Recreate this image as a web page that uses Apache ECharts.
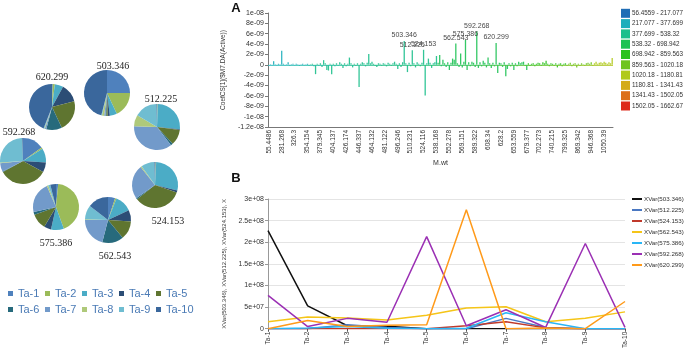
<!DOCTYPE html>
<html>
<head>
<meta charset="utf-8">
<script src="https://cdn.jsdelivr.net/npm/echarts@6/dist/echarts.min.js"></script>
<style>
html,body{margin:0;padding:0;background:#fff}
#main{width:685px;height:351px}
</style>
</head>
<body>
<div id="main"></div>
<script>
// ---- panel A : coefficient bars ----
var mwTicks = ['55.4486','281.268','326.3','354.154','379.345','404.137','426.174','446.337','464.132',
  '481.122','496.246','510.231','524.116','538.168','552.278','569.151','589.322','608.34','628.2',
  '653.559','679.377','702.273','740.215','799.325','869.342','946.368','1050.39'];
// coefficients in units of 1e-9, 8 bars per tick step
var coefNano = [
  0.2, 0.1,-0.1, 0.7, 0.1,-0.1, 0.2, 0.1,
  2.7, 0.2,-0.1, 0.1, 0.5,-0.2, 0.1, 0.2,
 -0.1, 0.2, 0.1,-0.2, 0.1, 0.2,-0.1, 0.1,
  0.2,-0.2, 0.1, 0.2,-0.3,-1.8, 0.2,-0.2,
  0.3,-0.4, 0.9, 0.3,-1.0,-1.1, 0.2,-1.8,
  0.2,-0.3, 0.3,-0.2, 0.5, 0.2,-0.6, 0.3,
 -0.3, 0.2, 1.4, 0.3,-0.5, 0.2,-0.2, 0.3,
 -4.3, 0.2, 0.5, 0.3,-0.3, 0.4, 2.1, 0.3,
  0.6, 0.2,-0.2,-0.4, 0.3, 0.2,-0.2, 0.3,
  0.2,-0.3, 0.4, 0.2,-0.2, 0.3, 0.6, 0.2,
 -0.8, 0.3,-0.4, 0.5, 4.6, 0.3,-1.4, 0.4,
 -0.3, 2.8, 0.3,-0.5, 0.5, 0.2,-0.3, 0.4,
  2.9,-5.9, 0.3, 1.2, 0.4,-0.6, 0.3, 0.5,
  1.7, 0.4, 1.9,-0.3, 1.0, 0.3,-0.4, 0.5,
 -1.0, 0.4, 1.2, 1.0, 4.1, 0.3,-0.4, 2.2,
 -0.5, 0.6, 4.8,-1.0, 0.5,-0.3, 0.6, 0.4,
 -0.4, 6.5,-0.6, 0.5,-0.3, 0.8, 0.4,-0.5,
  1.4, 0.3,-0.6, 0.4,-0.3, 4.2,-1.6, 0.4,
  0.3,-0.4, 0.5,-2.2,-0.8, 0.3,-0.3, 0.4,
 -1.0, 0.3,-0.3, 0.6, 0.3, 0.5, 0.6,-0.2,
 -1.0, 0.3,-0.2, 0.2, 0.3,-0.3, 0.2, 0.4,
  0.3,-0.2, 0.5, 0.3, 0.8, 0.2,-0.3, 0.3,
  0.2,-0.2, 0.3,-0.5, 0.2, 0.3,-0.3, 0.2,
  0.3,-0.2, 0.2, 0.4,-0.3, 0.2, 0.3,-0.5,
  0.2,-0.2, 0.3, 0.1,-0.2, 0.3, 0.4, 0.2,
  0.5,-0.2, 0.3, 0.6, 0.2, 0.4, 0.5, 0.3,
  0.6, 0.4, 0.2, 0.5, 0.3, 1.3
];
var peakIndex = [84, 89, 96, 116, 122, 129, 141];
var peakNames = ['503.346','512.225','524.153','562.543','575.386','592.268','620.299'];
var massBreaks = [56.4559, 217.077, 377.699, 538.32, 698.942, 859.563, 1020.18, 1180.81, 1341.43, 1502.05, 1662.67];
var rangeColors = ['#1f6db5','#1eaebb','#1cbf8c','#1ec254','#2ac21e','#6ec41e','#b0c91a','#d4ab18','#dc6f1a','#dd2a1b'];

// ---- panel B : XVar per sample ----
var sampleNames = ['Ta-1','Ta-2','Ta-3','Ta-4','Ta-5','Ta-6','Ta-7','Ta-8','Ta-9','Ta-10'];
var xvar503 = [227e6, 53e6, 7e6, 6e6, 0, 0, 0, 0, 0, 0];
var xvar512 = [0, 0, 9e6, 3e6, 0, 0, 24e6, 3e6, 0, 0];
var xvar524 = [0, 0, 0, 0, 0, 7e6, 16e6, 2e6, 0, 0];
var xvar562 = [16e6, 27e6, 25e6, 20e6, 31e6, 48e6, 51e6, 16e6, 24e6, 39e6];
var xvar575 = [0, 2e6, 5e6, 1e6, 0, 1e6, 37e6, 16e6, 0, 0];
var xvar592 = [77e6, 5e6, 24e6, 15e6, 213e6, 7e6, 44e6, 3e6, 197e6, 3e6];
var xvar620 = [0, 19e6, 5e6, 8e6, 9e6, 275e6, 0, 2e6, 0, 63e6];
var lineColors = ['#111111','#4a78c2','#c0392b','#f5c518','#29b6f6','#9b30b4','#ff9a1a'];

// ---- left : pies (share of each sample, %) ----
var taNames = ['Ta-1','Ta-2','Ta-3','Ta-4','Ta-5','Ta-6','Ta-7','Ta-8','Ta-9','Ta-10'];
var share503 = [25, 18, 5, 1.5, 1, 0.5, 1, 1.5, 0.5, 46];
var share512 = [0.3, 0.3, 26, 0.5, 11, 1.5, 36, 8, 16, 0.4];
var share524 = [0.5, 0.3, 28, 1.5, 34, 1, 24, 0.8, 9.5, 0.4];
var share562 = [5, 1, 12, 8, 13, 15, 21, 0.5, 10, 14.5];
var share575 = [1.5, 43, 9, 5, 11, 2, 22, 1, 1.5, 4];
var share592 = [15, 1, 10, 7, 34, 0.5, 6, 0.5, 25.5, 0.5];
var share620 = [0.5, 1.5, 6, 13, 22, 11, 1, 0.5, 0.5, 44];
var taColors = ['#4f81bd','#9bbb59','#4bacc6','#2c4d75','#5f7530','#276a7c','#729aca','#afc97a','#6fbdd1','#3a679c'];

var myChart = echarts.init(document.getElementById('main'));

function pad2(n){ return n < 10 ? '0' + n : '' + n; }
function sciLabel(v, scale){
    if (v === 0) return '0';
    var a = Math.abs(v) * scale;
    var e = Math.floor(Math.log10(a) + 1e-9);
    var m = +(a / Math.pow(10, e)).toFixed(2);
    return (v < 0 ? '-' : '') + m + 'e' + (e < 0 ? '-' : '+') + pad2(Math.abs(e));
}

var barData = coefNano.map(function (v, i) {
    var mass = parseFloat(mwTicks[Math.min(Math.ceil(i / 8), mwTicks.length - 1)]);
    var item = { value: [i, v, mass] };
    var p = peakIndex.indexOf(i);
    if (p >= 0) {
        item.label = { show: true, formatter: peakNames[p] };
    }
    return item;
});

var pieSets = [
    { name: '503.346', data: share503, c: [107, 93], t: [113, 66] },
    { name: '512.225', data: share512, c: [157, 127], t: [161, 99] },
    { name: '524.153', data: share524, c: [155, 185], t: [168, 221] },
    { name: '562.543', data: share562, c: [108, 220], t: [115, 256] },
    { name: '575.386', data: share575, c: [56, 207], t: [56, 243] },
    { name: '592.268', data: share592, c: [23, 161], t: [19, 132] },
    { name: '620.299', data: share620, c: [52, 107], t: [52, 77] }
];
var lineSets = [
    ['XVar(503.346)', xvar503], ['XVar(512.225)', xvar512], ['XVar(524.153)', xvar524],
    ['XVar(562.543)', xvar562], ['XVar(575.386)', xvar575], ['XVar(592.268)', xvar592],
    ['XVar(620.299)', xvar620]
];

var series = [{
    type: 'bar',
    xAxisIndex: 0, yAxisIndex: 0,
    dimensions: ['idx', 'coef', 'mass'],
    encode: { x: 0, y: 1 },
    barWidth: 1.3,
    data: barData,
    itemStyle: { opacity: 0.9 },
    label: { position: 'top', distance: 2, fontSize: 7, color: '#333' },
    markLine: {
        silent: true, symbol: 'none', label: { show: false },
        lineStyle: {
            width: 1, type: 'solid', opacity: 0.8,
            color: new echarts.graphic.LinearGradient(0, 0, 1, 0, [
                { offset: 0, color: '#2fbcc0' },
                { offset: 0.45, color: '#2cc27a' },
                { offset: 0.75, color: '#55c433' },
                { offset: 1, color: '#b8c41e' }
            ])
        },
        data: [{ yAxis: 0 }]
    }
}];
lineSets.forEach(function (s, k) {
    series.push({
        type: 'line', name: s[0], xAxisIndex: 1, yAxisIndex: 1,
        data: s[1], symbol: 'none',
        lineStyle: { width: 1.5, color: lineColors[k] },
        itemStyle: { color: lineColors[k] }
    });
});
pieSets.forEach(function (p) {
    series.push({
        type: 'pie', name: p.name, center: p.c, radius: 23,
        startAngle: 90, clockwise: true,
        label: { show: false }, labelLine: { show: false },
        emphasis: { disabled: true },
        data: taNames.map(function (n, i) {
            return { name: n, value: p.data[i], itemStyle: { color: taColors[i] } };
        })
    });
});

var graphics = [
    { type: 'text', x: 236, y: 8, style: { text: 'A', font: 'bold 13px "Liberation Sans"', fill: '#111', align: 'center', verticalAlign: 'middle' } },
    { type: 'text', x: 236, y: 178, style: { text: 'B', font: 'bold 13px "Liberation Sans"', fill: '#111', align: 'center', verticalAlign: 'middle' } }
];
pieSets.forEach(function (p) {
    graphics.push({ type: 'text', x: p.t[0], y: p.t[1],
        style: { text: p.name, font: '10px "Liberation Serif"', fill: '#222', align: 'center', verticalAlign: 'middle' } });
});

var option = {
    animation: false,
    textStyle: { fontFamily: 'Liberation Sans' },
    grid: [
        { left: 268, top: 13, width: 345, height: 114 },
        { left: 268, top: 199, width: 357, height: 130 }
    ],
    xAxis: [{
        type: 'category', gridIndex: 0,
        data: coefNano.map(function (v, i) { return String(i); }),
        name: 'M.wt', nameLocation: 'middle', nameGap: 33,
        nameTextStyle: { fontSize: 7, color: '#333' },
        axisLine: { onZero: false, lineStyle: { color: '#777' } },
        axisTick: { alignWithLabel: true, interval: function (i) { return i % 8 === 0; }, length: 3 },
        axisLabel: {
            rotate: 90, fontSize: 6.5, color: '#333', margin: 3,
            interval: function (i) { return i % 8 === 0; },
            formatter: function (v, i) { return mwTicks[i / 8] || ''; }
        }
    }, {
        type: 'category', gridIndex: 1, boundaryGap: false,
        data: sampleNames,
        axisLine: { lineStyle: { color: '#555' } },
        axisTick: { length: 3 },
        axisLabel: { rotate: 90, fontSize: 6.5, color: '#333', margin: 3, interval: 0 }
    }],
    yAxis: [{
        type: 'value', gridIndex: 0, min: -12, max: 10, interval: 2,
        name: 'CoefCS[1]($M7.DA(Active))', nameLocation: 'middle', nameGap: 31,
        nameTextStyle: { fontSize: 6.5, color: '#333' },
        axisLine: { show: true, lineStyle: { color: '#777' } },
        axisTick: { show: true, length: 3 },
        splitLine: { show: false },
        axisLabel: { fontSize: 7, color: '#333', margin: 4,
            formatter: function (v) { return sciLabel(v, 1e-9); } }
    }, {
        type: 'value', gridIndex: 1, min: 0, max: 3e8, interval: 5e7,
        name: 'XVar(503.346), XVar(512.225), XVar(524.153), X', nameLocation: 'middle', nameGap: 32,
        nameTextStyle: { fontSize: 6, color: '#333' },
        axisLine: { show: true, lineStyle: { color: '#999' } },
        axisTick: { show: true, length: 3 },
        splitLine: { lineStyle: { color: '#e4e4e4' } },
        axisLabel: { fontSize: 7, color: '#333', margin: 4,
            formatter: function (v) { return sciLabel(v, 1); } }
    }],
    visualMap: {
        type: 'piecewise', seriesIndex: 0, dimension: 2,
        left: 621, top: 8.8, padding: 0, orient: 'vertical', align: 'left', inverse: true,
        itemWidth: 9, itemHeight: 9, itemGap: 1.3, textGap: 2, itemSymbol: 'rect',
        textStyle: { fontSize: 6.3, color: '#333' },
        pieces: rangeColors.map(function (c, j) {
            return { gte: massBreaks[j], lt: massBreaks[j + 1], color: c,
                label: massBreaks[j] + ' - ' + massBreaks[j + 1] };
        })
    },
    legend: [{
        data: taNames, left: 8, top: 288, padding: 0, width: 190, orient: 'horizontal',
        itemWidth: 5, itemHeight: 5, itemGap: 5, icon: 'rect',
        textStyle: { fontSize: 11, lineHeight: 11, width: 22, color: '#4a7ab5' }
    }, {
        data: lineSets.map(function (s) { return s[0]; }),
        left: 632, top: 195, padding: 0, orient: 'vertical', icon: 'rect',
        itemWidth: 10, itemHeight: 2, itemGap: 3,
        textStyle: { fontSize: 6.2, lineHeight: 8, color: '#333', padding: [0, 0, 0, -3] }
    }],
    graphic: graphics,
    series: series
};
myChart.setOption(option);
</script>
</body>
</html>
